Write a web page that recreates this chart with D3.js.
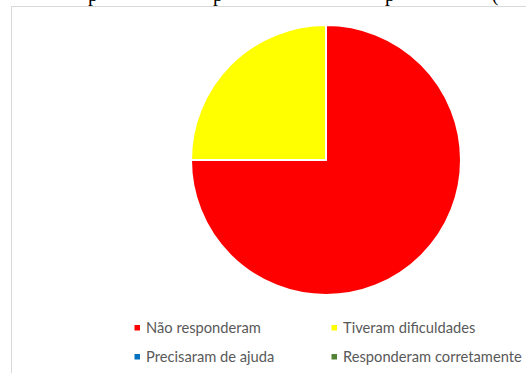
<!DOCTYPE html>
<html>
<head>
<meta charset="utf-8">
<script src="https://cdn.jsdelivr.net/npm/d3@7.9.0/dist/d3.min.js"></script>
<style>
  body { margin: 0; background: #fff; }
  svg { display: block; }
</style>
</head>
<body>
<div id="chart"></div>
<script>
// Data
const categories = ["Não responderam", "Tiveram dificuldades", "Precisaram de ajuda", "Responderam corretamente"];
const values = [75, 25, 0, 0];
const colors = ["#FF0000", "#FFFF00", "#0070C0", "#548235"];

// Clipped caption text above the chart frame (only descenders visible)
const captionGlyphs = ["p", "p", "p", "("];
const captionX = [93, 218, 390, 495];

const width = 526, height = 373;

const svg = d3.select("#chart")
    .append("svg")
    .attr("width", width)
    .attr("height", height);

// caption line cut off at the top
svg.selectAll(".caption")
    .data(captionGlyphs)
    .enter()
    .append("text")
    .attr("class", "caption")
    .attr("x", (d, i) => captionX[i])
    .attr("y", 1)
    .attr("text-anchor", "middle")
    .attr("font-family", "Liberation Serif")
    .attr("font-size", 20)
    .attr("fill", "#000")
    .text(d => d);

// chart frame
svg.append("rect")
    .attr("x", 11.5)
    .attr("y", 6.5)
    .attr("width", 600)
    .attr("height", 500)
    .attr("fill", "#fff")
    .attr("stroke", "#d9d9d9")
    .attr("stroke-width", 1);

// Pie
const cx = 326, cy = 160, radius = 135;

const pie = d3.pie().sort(null).value(d => d);
const arc = d3.arc().innerRadius(0).outerRadius(radius);

const g = svg.append("g")
    .attr("transform", `translate(${cx},${cy})`);

g.selectAll("path")
    .data(pie(values).filter(d => d.value > 0))
    .enter()
    .append("path")
    .attr("d", arc)
    .attr("fill", d => colors[d.index])
    .attr("stroke", "#fff")
    .attr("stroke-width", 2)
    .attr("stroke-linejoin", "round");

// Legend
const legendX = [137, 334];
const legendY = [328, 357];

const legend = svg.selectAll(".legend")
    .data(categories)
    .enter()
    .append("g")
    .attr("class", "legend")
    .attr("transform", (d, i) => `translate(${legendX[i % 2]},${legendY[Math.floor(i / 2)]})`);

legend.append("rect")
    .attr("x", -2.5)
    .attr("y", -3)
    .attr("width", 5.5)
    .attr("height", 5.5)
    .attr("fill", (d, i) => colors[i]);

legend.append("text")
    .attr("x", 9)
    .attr("y", 5)
    .attr("font-family", "Lato, 'Open Sans', sans-serif")
    .attr("font-size", 14.7)
    .attr("fill", "#595959")
    .text(d => d);
</script>
</body>
</html>
